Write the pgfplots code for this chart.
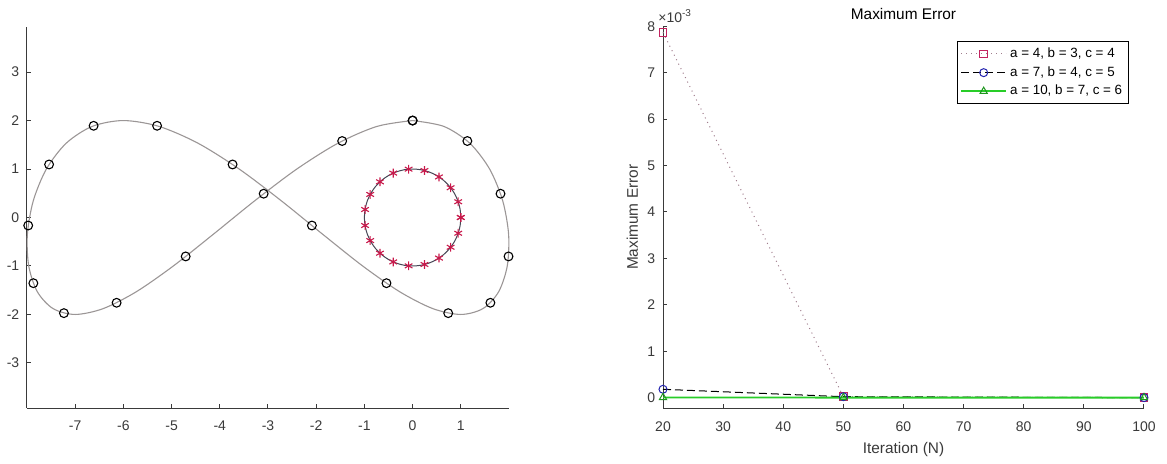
\documentclass[border=0pt]{standalone}
\usepackage{fontspec}
\setmainfont{Liberation Sans}
\usepackage{pgfplots}
\pgfplotsset{compat=1.18}

\definecolor{axisgray}{RGB}{58,58,58}
\definecolor{curvegray}{RGB}{155,150,150}
\definecolor{ringgray}{RGB}{70,70,85}
\definecolor{starred}{RGB}{200,25,75}
\definecolor{sqred}{RGB}{195,35,95}
\definecolor{dotline}{RGB}{160,125,140}
\definecolor{cblue}{RGB}{35,35,175}
\definecolor{lgreen}{RGB}{40,205,40}
\definecolor{mgreen}{RGB}{30,150,30}

\pgfplotsset{
  mlaxis/.style={
    scale only axis,
    axis x line=bottom,
    axis y line=left,
    axis line style={-, draw=axisgray, line width=0.5pt},
    every tick/.style={draw=axisgray, line width=0.5pt},
    tick align=inside,
    major tick length=2.2pt,
    tick label style={font=\fontsize{7}{8}\selectfont, text=axisgray},
    /pgf/number format/assume math mode=true,
    xticklabel style={anchor=north, inner sep=0pt, yshift=-6.3pt},
    yticklabel style={anchor=east, inner sep=0pt, xshift=-3.7pt},
    clip=false,
  },
}

\begin{document}
\begin{tikzpicture}
\useasboundingbox (0,0) rectangle (583.5pt,231.5pt);

% ---------- figure-eight path with sample points and unit circle ----------
\begin{axis}[
  mlaxis,
  at={(13.5pt,27.5pt)}, anchor=south west,
  width=241pt, height=190.5pt,
  xmin=-8, xmax=2, ymin=-3.93, ymax=3.93,
  xtick={-7,-6,-5,-4,-3,-2,-1,0,1},
  ytick={-3,-2,-1,0,1,2,3},
]
% path, sampled every 10 degrees of the parameter
\addplot[curvegray, line width=0.55pt, smooth, no marks] coordinates {
  (0,2) (0.649,1.879) (1.187,1.532) (1.598,1.0) (1.869,0.347) (1.992,-0.347)
  (1.964,-1.0) (1.785,-1.532) (1.460,-1.879) (1.0,-2) (0.418,-1.879)
  (-0.267,-1.532) (-1.036,-1.0) (-1.864,-0.347) (-2.727,0.347) (-3.598,1.0)
  (-4.451,1.532) (-5.260,1.879) (-6.0,2) (-6.649,1.879) (-7.187,1.532)
  (-7.598,1.0) (-7.869,0.347) (-7.992,-0.347) (-7.964,-1.0) (-7.785,-1.532)
  (-7.460,-1.879) (-7.0,-2) (-6.418,-1.879) (-5.733,-1.532) (-4.964,-1.0)
  (-4.136,-0.347) (-3.273,0.347) (-2.402,1.0) (-1.549,1.532) (-0.740,1.879)
  (0,2)
};
% unit circle
\addplot[ringgray, line width=0.5pt, smooth, no marks] coordinates {
  (1,0) (0.985,0.174) (0.940,0.342) (0.866,0.5) (0.766,0.643) (0.643,0.766)
  (0.5,0.866) (0.342,0.940) (0.174,0.985) (0,1) (-0.174,0.985) (-0.342,0.940)
  (-0.5,0.866) (-0.643,0.766) (-0.766,0.643) (-0.866,0.5) (-0.940,0.342)
  (-0.985,0.174) (-1,0) (-0.985,-0.174) (-0.940,-0.342) (-0.866,-0.5)
  (-0.766,-0.643) (-0.643,-0.766) (-0.5,-0.866) (-0.342,-0.940) (-0.174,-0.985)
  (0,-1) (0.174,-0.985) (0.342,-0.940) (0.5,-0.866) (0.643,-0.766)
  (0.766,-0.643) (0.866,-0.5) (0.940,-0.342) (0.985,-0.174) (1,0)
};
% 20 sample points on the path
\addplot[only marks, mark=o, mark size=2.2pt, black, line width=0.55pt] coordinates {
  (0,2) (1.136,1.578) (1.824,0.491) (1.990,-0.803) (1.614,-1.759)
  (0.739,-1.973) (-0.542,-1.355) (-2.089,-0.165) (-3.735,1.094) (-5.301,1.892)
  (-6.618,1.892) (-7.542,1.094) (-7.975,-0.165) (-7.868,-1.355) (-7.234,-1.973)
  (-6.141,-1.759) (-4.708,-0.803) (-3.090,0.491) (-1.461,1.578) (0,2)
};
% 20 sample points on the circle
\addplot[only marks, mark=asterisk, mark size=2.2pt, starred, line width=0.55pt] coordinates {
  (1,0) (0.946,0.325) (0.789,0.614) (0.547,0.837) (0.246,0.969)
  (-0.083,0.997) (-0.402,0.916) (-0.677,0.736) (-0.880,0.476) (-0.986,0.165)
  (-0.986,-0.165) (-0.880,-0.476) (-0.677,-0.736) (-0.402,-0.916) (-0.083,-0.997)
  (0.246,-0.969) (0.547,-0.837) (0.789,-0.614) (0.946,-0.325) (1,0)
};
\end{axis}

% ---------- convergence of the maximum error ----------
\begin{axis}[
  mlaxis,
  at={(331.5pt,27.35pt)}, anchor=south west,
  width=240.5pt, height=191pt,
  xmin=20, xmax=100, ymin=-0.00023, ymax=0.008,
  xtick={20,30,40,50,60,70,80,90,100},
  ytick={0,0.001,0.002,0.003,0.004,0.005,0.006,0.007,0.008},
  scaled y ticks=base 10:3,
  ytick scale label code/.code={×10\textsuperscript{#1}},
  every y tick scale label/.style={at={(rel axis cs:0,1)}, anchor=south west,
    inner sep=0pt, xshift=1.2pt, yshift=1.6pt,
    font=\fontsize{7}{8}\selectfont, text=axisgray},
  title={Maximum Error},
  every axis title shift=0pt,
  title style={at={(rel axis cs:0.5,1)}, anchor=base, yshift=3.4pt,
    inner sep=0pt, font=\fontsize{7.7}{9}\selectfont, text=black},
  xlabel={Iteration (N)},
  xlabel style={at={(rel axis cs:0.5,0)}, anchor=base, yshift=-22.6pt,
    inner sep=0pt, font=\fontsize{7.7}{9}\selectfont, text=axisgray},
  ylabel={Maximum Error},
  ylabel style={at={(axis description cs:-0.0636,0.5)}, anchor=center,
    inner sep=0pt, font=\fontsize{7.7}{9}\selectfont, text=axisgray},
  legend cell align=left,
  legend image code/.code={%
    \draw[mark repeat=2, mark phase=2]
      plot coordinates {(0pt,0pt) (11.25pt,0pt) (22.5pt,0pt)};},
  legend style={at={(rel axis cs:0.611,0.961)}, anchor=north west,
    draw=black, fill=white,
    inner xsep=1.5pt, inner ysep=1.5pt, row sep=0pt,
    font=\fontsize{6.7}{8}\selectfont,
    nodes={inner xsep=1.5pt, inner ysep=1.6pt, text height=4.8pt, text depth=1.35pt}},
]
\addplot[dotline, dotted, line width=0.5pt,
  mark=square, mark size=1.9pt, mark options={solid, draw=sqred}] coordinates {
  (20,0.00787) (50,0.00002) (100,0.0000001)
};
\addlegendentry{a = 4, b = 3, c = 4}
\addplot[black, dash pattern=on 4pt off 2pt, line width=0.5pt,
  mark=o, mark size=2pt, mark options={solid, draw=cblue}] coordinates {
  (20,0.00018) (50,0.00002) (100,0.0000001)
};
\addlegendentry{a = 7, b = 4, c = 5}
\addplot[draw=lgreen, solid, line width=0.9pt,
  mark=triangle, mark size=2.1pt, mark options={solid, draw=mgreen, line width=0.5pt}] coordinates {
  (20,0.000002) (50,0.0000005) (100,0.0000001)
};
\addlegendentry{a = 10, b = 7, c = 6}
\end{axis}
\end{tikzpicture}
\end{document}
